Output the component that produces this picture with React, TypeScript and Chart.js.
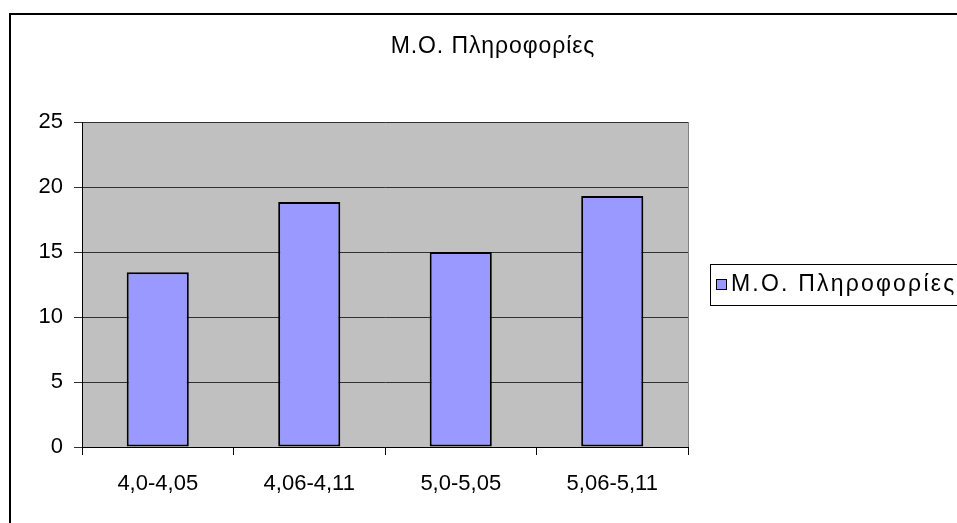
import React, { useEffect, useRef } from "react";
import { Chart, registerables } from "chart.js";

Chart.register(...registerables);

const chartTitle = "Μ.Ο. Πληροφορίες";
const categories = ["4,0-4,05", "4,06-4,11", "5,0-5,05", "5,06-5,11"];
const seriesName = "Μ.Ο. Πληροφορίες";
const seriesValues = [13.45, 18.85, 15.0, 19.3];
const yTicks = [0, 5, 10, 15, 20, 25];

const FONT = "'Liberation Sans', Arial, sans-serif";
const BAR_COLOR = "#9999FF";

export default function App() {
  const ref = useRef<HTMLCanvasElement>(null);

  useEffect(() => {
    const canvas = ref.current;
    if (!canvas) return;

    const frame = {
      id: "excelFrame",
      beforeDraw(chart: any) {
        const { ctx, chartArea } = chart;
        ctx.save();
        ctx.fillStyle = "#FFFFFF";
        ctx.fillRect(0, 0, chart.width, chart.height);
        ctx.fillStyle = "#C0C0C0";
        ctx.fillRect(chartArea.left, chartArea.top, chartArea.right - chartArea.left, chartArea.bottom - chartArea.top);
        ctx.restore();
      },
      afterDatasetsDraw(chart: any) {
        const { ctx, chartArea } = chart;
        ctx.save();
        ctx.strokeStyle = "#808080";
        ctx.lineWidth = 1;
        ctx.beginPath();
        ctx.moveTo(chartArea.right + 0.5, chartArea.top);
        ctx.lineTo(chartArea.right + 0.5, chartArea.bottom);
        ctx.stroke();
        ctx.restore();
      },
      afterDraw(chart: any) {
        const { ctx } = chart;
        ctx.save();
        // outer border
        ctx.strokeStyle = "#000000";
        ctx.lineWidth = 2;
        ctx.strokeRect(10, 14, 1200, 800);
        // title
        ctx.fillStyle = "#000000";
        ctx.font = `23px ${FONT}`;
        ctx.letterSpacing = "0.9px";
        ctx.textAlign = "center";
        ctx.textBaseline = "middle";
        ctx.fillText(chartTitle, 493, 47);
        // legend
        const ds = chart.data.datasets[0];
        ctx.lineWidth = 1;
        ctx.strokeStyle = "#000000";
        ctx.strokeRect(710.5, 264.5, 400, 41);
        ctx.fillStyle = ds.backgroundColor;
        ctx.fillRect(716.5, 279.5, 10, 10);
        ctx.strokeRect(716.5, 279.5, 10, 10);
        ctx.fillStyle = "#000000";
        ctx.font = `23px ${FONT}`;
        ctx.letterSpacing = "2.2px";
        ctx.textAlign = "left";
        ctx.textBaseline = "middle";
        ctx.fillText(ds.label, 731, 285);
        ctx.letterSpacing = "0px";
        ctx.restore();
      },
    };

    const chart = new Chart(canvas, {
      type: "bar",
      data: {
        labels: categories,
        datasets: [
          {
            label: seriesName,
            data: seriesValues,
            backgroundColor: BAR_COLOR,
            borderColor: "#000000",
            borderWidth: 2,
            borderSkipped: false,
            barPercentage: 0.41,
            categoryPercentage: 1,
          },
        ],
      },
      options: {
        animation: false,
        responsive: false,
        devicePixelRatio: 1,
        layout: { padding: { left: 0, top: 122, right: 269, bottom: 0 } },
        plugins: {
          legend: { display: false },
          title: { display: false },
          tooltip: { enabled: false },
        },
        scales: {
          y: {
            min: 0,
            max: 25,
            afterBuildTicks(scale: any) {
              scale.ticks = yTicks.map((v) => ({ value: v }));
            },
            afterFit(scale: any) {
              scale.width = 82;
            },
            ticks: {
              color: "#000000",
              font: { family: FONT, size: 22 },
              padding: 11,
            },
            grid: {
              color: "#303030",
              lineWidth: 1,
              tickLength: 8,
              drawTicks: true,
            },
            border: { display: true, color: "#000000", width: 1 },
          },
          x: {
            afterFit(scale: any) {
              scale.height = 76;
            },
            ticks: {
              color: "#000000",
              font: { family: FONT, size: 22 },
              padding: 16,
            },
            grid: {
              offset: true,
              drawOnChartArea: false,
              drawTicks: true,
              tickLength: 8,
              color: "#000000",
            },
            border: { display: true, color: "#000000", width: 1 },
          },
        },
      },
      plugins: [frame],
    });

    return () => chart.destroy();
  }, []);

  return (
    <div style={{ position: "fixed", left: 0, top: 0, width: 957, height: 523, background: "#fff" }}>
      <canvas ref={ref} width={957} height={523} style={{ display: "block" }} />
    </div>
  );
}
